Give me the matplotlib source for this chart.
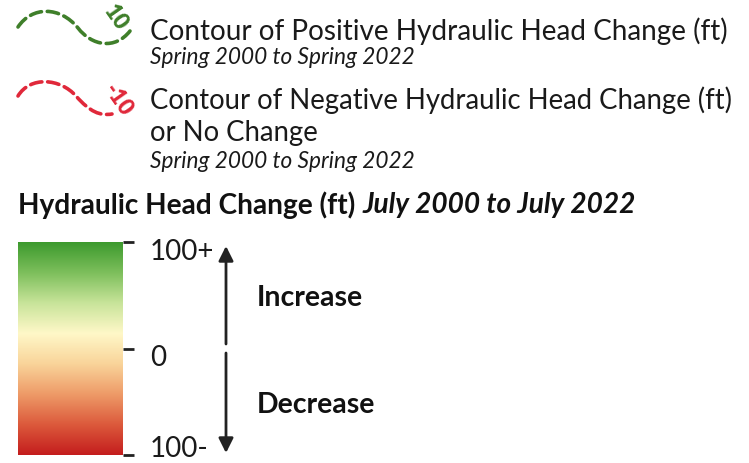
import numpy as np
import matplotlib
matplotlib.use("Agg")
import matplotlib.pyplot as plt
from matplotlib.path import Path
from matplotlib.patches import PathPatch
from matplotlib.colors import LinearSegmentedColormap

# legend text
POS_LABEL = "Contour of Positive Hydraulic Head Change (ft)"
NEG_LABEL = ["Contour of Negative Hydraulic Head Change (ft)", "or No Change"]
PERIOD = "Spring 2000 to Spring 2022"
TITLE_MAIN = "Hydraulic Head Change (ft) "
TITLE_PERIOD = "July 2000 to July 2022"
POS_CONTOUR = "10"
NEG_CONTOUR = "-10"

# colour bar
CBAR_VALUES = [100, 0, -100]
CBAR_LABELS = ["100+", "0", "100-"]
CBAR_COLORS = ["#3d9a2e", "#7dbf5c", "#c8e49a", "#fff8c8", "#f9d49a",
               "#ee9b68", "#dc5a3c", "#c41d1d"]
ARROW_LABELS = ["Increase", "Decrease"]

FONT = ["Lato", "DejaVu Sans"]
W, H = 749, 463


def wave(ax, pts, color):
    codes = [Path.MOVETO] + [Path.CURVE4] * (len(pts) - 1)
    p = PathPatch(Path(pts, codes), fill=False, edgecolor=color, lw=2.6,
                  linestyle=(0, (3.2, 1.6)), capstyle="round")
    ax.add_patch(p)


def main():
    fig = plt.figure(figsize=(W / 100, H / 100), dpi=100)
    ax = fig.add_axes([0, 0, 1, 1])
    ax.set_xlim(0, W)
    ax.set_ylim(H, 0)
    ax.axis("off")

    green = "#3f7f2a"
    red = "#e0283a"
    ink = "#1a1a1a"

    # positive contour sample
    wave(ax, [(18, 27), (32, 6), (60, 6), (78, 28),
              (92, 46), (115, 50), (130, 31)], green)
    ax.text(116, 18, POS_CONTOUR, color=green, fontsize=16, fontweight="heavy",
            rotation=-55, ha="center", va="center", family=FONT)
    ax.text(150, 31, POS_LABEL, fontsize=20.1, va="center", color=ink, family=FONT)
    ax.text(150, 58, PERIOD, fontsize=16.3, style="italic", va="center",
            color=ink, family=FONT)

    # negative contour sample
    wave(ax, [(18, 96), (30, 76), (60, 78), (76, 96),
              (90, 112), (100, 116), (112, 114)], red)
    ax.text(118, 100, NEG_CONTOUR, color=red, fontsize=16, fontweight="heavy",
            rotation=-55, ha="center", va="center", family=FONT)
    ax.text(150, 100, NEG_LABEL[0], fontsize=19.8, va="center", color=ink, family=FONT)
    ax.text(150, 133, NEG_LABEL[1], fontsize=19.8, va="center", color=ink, family=FONT)
    ax.text(150, 162, PERIOD, fontsize=16.3, style="italic", va="center",
            color=ink, family=FONT)

    # title
    t = ax.text(18, 205, TITLE_MAIN, fontsize=20.2, fontweight="bold", va="center",
                color="#111111", family=FONT)
    fig.canvas.draw()
    bb = t.get_window_extent()
    x_end = ax.transData.inverted().transform((bb.x1, 0))[0]
    ax.text(x_end, 205, TITLE_PERIOD, fontsize=20.2, fontweight="bold",
            style="italic", va="center", color="#111111", family=FONT)

    # colour bar
    cmap = LinearSegmentedColormap.from_list("head", CBAR_COLORS[::-1])
    grad = np.linspace(CBAR_VALUES[0], CBAR_VALUES[-1], 256).reshape(-1, 1)
    y_top, y_bot = 242, 455
    ax.imshow(grad, cmap=cmap, vmin=-100, vmax=100, aspect="auto",
              extent=[18, 123, y_bot, y_top], interpolation="bilinear")
    for v, lab in zip(CBAR_VALUES, CBAR_LABELS):
        y = y_top + (CBAR_VALUES[0] - v) / 200 * (y_bot - y_top)
        ax.plot([123, 134], [y, y], color="#222222", lw=2, solid_capstyle="butt")
        ax.text(150, min(y + 10, 449), lab, fontsize=20, va="center",
                color=ink, family=FONT)

    # arrows
    arrow = dict(arrowstyle="-|>", color="#222222", lw=2, mutation_scale=22,
                 shrinkA=0, shrinkB=0)
    ax.annotate("", xy=(226, 246), xytext=(226, 344), arrowprops=arrow)
    ax.annotate("", xy=(226, 453), xytext=(226, 353), arrowprops=arrow)
    ax.text(257, 298, ARROW_LABELS[0], fontsize=20.5, fontweight="bold", va="center",
            color="#111111", family=FONT)
    ax.text(257, 405, ARROW_LABELS[1], fontsize=20.5, fontweight="bold", va="center",
            color="#111111", family=FONT)

    fig.savefig("out.png", dpi=100, facecolor="white")


if __name__ == "__main__":
    main()
